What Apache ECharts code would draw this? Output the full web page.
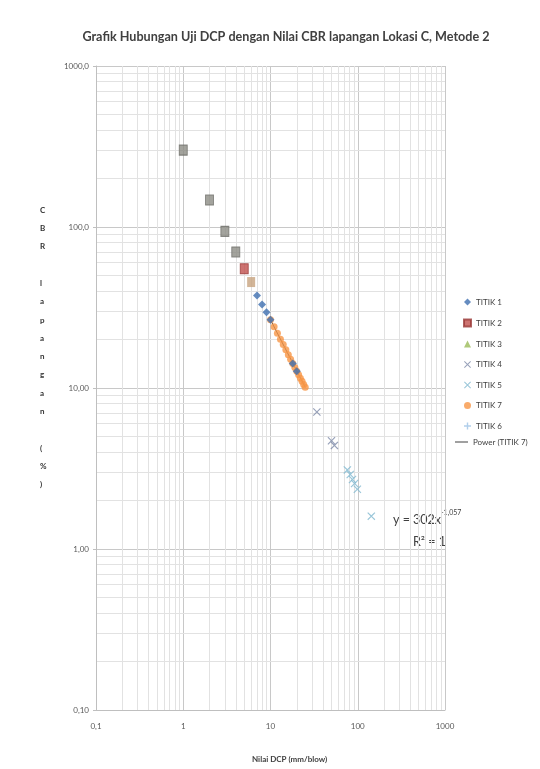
<!DOCTYPE html>
<html>
<head>
<meta charset="utf-8">
<script src="https://cdn.jsdelivr.net/npm/echarts@6/dist/echarts.min.js"></script>
<style>
  html, body { margin: 0; padding: 0; background: #fff; }
  #chart { width: 540px; height: 769px; }
</style>
</head>
<body>
<div id="chart"></div>
<script>
// values (x = Nilai DCP mm/blow, y = CBR %)
var grayX = [1, 2, 3, 4];
var grayY = [300, 147, 94, 70];
var t1X = [7, 8, 9, 10, 18, 20];
var t1Y = [37.5, 33, 29.5, 26.5, 14.2, 12.7];
var t2X = [5];
var t2Y = [55];
var t3X = [6];
var t3Y = [45.5];
var t4X = [34, 50, 54];
var t4Y = [7.1, 4.7, 4.4];
var t5X = [76, 82, 87, 92, 99, 143];
var t5Y = [3.1, 2.9, 2.7, 2.55, 2.35, 1.6];
var t7X = [10, 11, 12, 13, 14, 15, 16, 17, 18, 19, 20, 21, 22, 23, 24, 25];
var t7Y = [26.5, 24, 21.9, 20.1, 18.6, 17.3, 16.1, 15.1, 14.2, 13.4, 12.7, 12.1, 11.5, 11, 10.5, 10.1];
var t6X = [];
var t6Y = [];
var powerX = [10, 25];
var powerY = [26.5, 10.1];

function pairs(xs, ys) {
  return xs.map(function (x, i) { return [x, ys[i]]; });
}

// minor grid lines at 2..9 of each decade
var decades = [0.1, 1, 10, 100];
var minorLines = [];
decades.forEach(function (d) {
  for (var k = 2; k <= 9; k++) {
    var v = +(d * k).toPrecision(3);
    minorLines.push({ xAxis: v });
    minorLines.push({ yAxis: v });
  }
});

var crossPath = 'path://M0,1L1,0L5,4L9,0L10,1L6,5L10,9L9,10L5,6L1,10L0,9L4,5Z';
var plusPath = 'path://M4,0L6,0L6,4L10,4L10,6L6,6L6,10L4,10L4,6L0,6L0,4L4,4Z';
var legendText = { fontFamily: 'Lato', fontSize: 8, color: '#404040' };

var myChart = echarts.init(document.getElementById('chart'));
var option = {
  backgroundColor: '#ffffff',
  animation: false,
  title: {
    text: 'Grafik Hubungan Uji DCP dengan Nilai CBR lapangan Lokasi C, Metode 2',
    left: 281,
    textAlign: 'center',
    top: 25,
    textStyle: { fontFamily: 'Lato', fontSize: 12.6, fontWeight: 'bold', color: '#404040' }
  },
  grid: { left: 96, right: 95, top: 66, bottom: 59 },
  legend: [
    {
      orient: 'vertical',
      left: 458,
      top: 293,
      itemWidth: 7,
      itemHeight: 7,
      itemGap: 12.5,
      textStyle: legendText,
      data: [
        { name: 'TITIK 1', icon: 'diamond' },
        { name: 'TITIK 2', icon: 'rect' },
        { name: 'TITIK 3', icon: 'triangle', itemStyle: { color: '#9BBB59' } },
        { name: 'TITIK 4', icon: crossPath },
        { name: 'TITIK 5', icon: crossPath },
        { name: 'TITIK 7', icon: 'circle' },
        { name: 'TITIK 6', icon: plusPath }
      ]
    },
    {
      orient: 'vertical',
      left: 450,
      top: 433,
      itemWidth: 13,
      itemHeight: 1,
      textStyle: legendText,
      data: [{ name: 'Power (TITIK 7)', icon: 'rect' }]
    }
  ],
  xAxis: {
    type: 'log',
    logBase: 10,
    min: 0.1,
    max: 1000,
    axisLine: { show: true, lineStyle: { color: '#bfbfbf' } },
    axisTick: { show: false },
    axisLabel: {
      margin: 12,
      fontFamily: 'Lato',
      fontSize: 8,
      color: '#595959',
      formatter: function (v) { return v < 1 ? v.toFixed(1).replace('.', ',') : String(Math.round(v)); }
    },
    splitLine: { show: true, lineStyle: { color: '#c8c8c8' } }
  },
  yAxis: {
    type: 'log',
    logBase: 10,
    min: 0.1,
    max: 1000,
    axisLine: { show: true, lineStyle: { color: '#bfbfbf' } },
    axisTick: { show: true, length: 3, lineStyle: { color: '#bfbfbf' } },
    axisLabel: {
      margin: 7,
      fontFamily: 'Lato',
      fontSize: 8,
      color: '#595959',
      formatter: function (v) { return (v >= 100 ? v.toFixed(1) : v.toFixed(2)).replace('.', ','); }
    },
    splitLine: { show: true, lineStyle: { color: '#c8c8c8' } }
  },
  graphic: [
    {
      type: 'text', left: 40, top: 201,
      style: {
        text: 'C\nB\nR\n\nl\na\np\na\nn\ng\na\nn\n\n(\n%\n)',
        font: 'bold 8px Lato', fill: '#333333', lineHeight: 18.3, align: 'center', width: 12
      }
    },
    {
      type: 'text', left: 252, top: 755,
      style: { text: 'Nilai DCP (mm/blow)', font: 'bold 8px Lato', fill: '#404040' }
    },
    {
      type: 'text', left: 393, top: 513,
      style: { text: 'y = 302x', font: '12.5px Lato', fill: '#404040' }
    },
    {
      type: 'text', left: 441, top: 509,
      style: { text: '-1,057', font: '7px Lato', fill: '#404040' }
    },
    {
      type: 'text', left: 413, top: 535,
      style: { text: 'R\u00b2 = 1', font: '12.5px Lato', fill: '#404040' }
    }
  ],
  series: [
    {
      name: 'grid', type: 'line', data: [], z: 0, silent: true,
      markLine: {
        silent: true, symbol: 'none', animation: false, z: 0,
        label: { show: false },
        lineStyle: { color: '#e2e2e2', width: 1, type: 'solid' },
        emphasis: { disabled: true },
        data: minorLines
      }
    },
    {
      name: 'Titik awal', type: 'scatter', symbol: 'rect', symbolSize: [8, 10], z: 3,
      itemStyle: { color: '#8c8c84', borderColor: '#6f6f6a', borderWidth: 1 },
      data: pairs(grayX, grayY)
    },
    {
      name: 'TITIK 1', type: 'scatter', symbol: 'diamond', symbolSize: 8, z: 5,
      itemStyle: { color: '#3F6FB0' },
      data: pairs(t1X, t1Y)
    },
    {
      name: 'TITIK 2', type: 'scatter', symbol: 'rect', symbolSize: [8, 10], z: 3,
      itemStyle: { color: '#C0504D', borderColor: '#9a3a38', borderWidth: 1 },
      data: pairs(t2X, t2Y)
    },
    {
      name: 'TITIK 3', type: 'scatter', symbol: 'rect', symbolSize: [8, 10], z: 3,
      itemStyle: { color: '#C7A27E' },
      data: pairs(t3X, t3Y)
    },
    {
      name: 'TITIK 4', type: 'scatter', symbol: crossPath, symbolSize: 8, z: 3,
      itemStyle: { color: '#7d8aa8' },
      data: pairs(t4X, t4Y)
    },
    {
      name: 'TITIK 5', type: 'scatter', symbol: crossPath, symbolSize: 8, z: 3,
      itemStyle: { color: '#7fb8cf' },
      data: pairs(t5X, t5Y)
    },
    {
      name: 'TITIK 7', type: 'scatter', symbol: 'circle', symbolSize: 7, z: 4,
      itemStyle: { color: '#F79646' },
      data: pairs(t7X, t7Y)
    },
    {
      name: 'TITIK 6', type: 'scatter', symbol: plusPath, symbolSize: 8, z: 3,
      itemStyle: { color: '#9dc3e6' },
      data: pairs(t6X, t6Y)
    },
    {
      name: 'Power (TITIK 7)', type: 'line', symbol: 'none', z: 2,
      lineStyle: { color: '#404040', width: 1 },
      itemStyle: { color: '#404040' },
      data: pairs(powerX, powerY)
    }
  ]
};
myChart.setOption(option);
</script>
</body>
</html>
